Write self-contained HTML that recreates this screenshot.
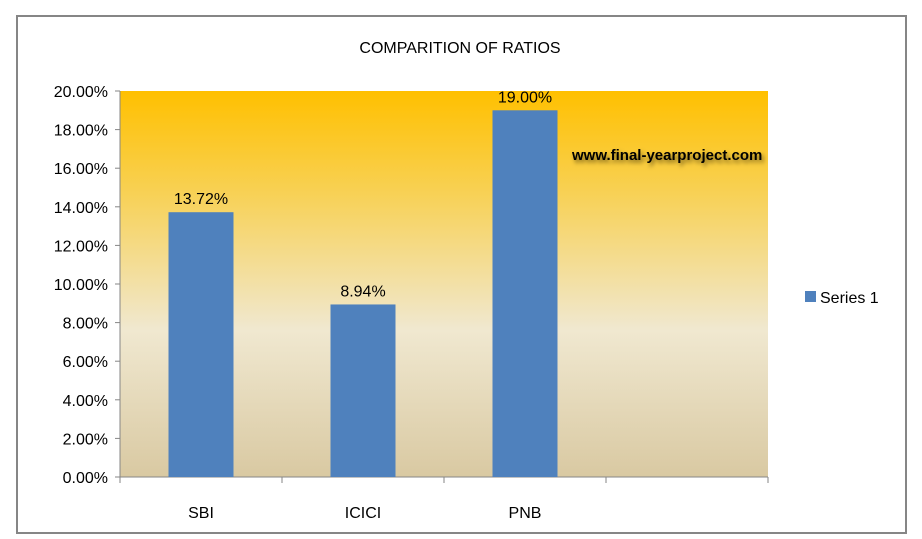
<!DOCTYPE html>
<html><head><meta charset="utf-8"><style>
html,body{margin:0;padding:0;background:#fff;}
svg{display:block;font-family:"Liberation Sans",sans-serif;}
</style></head><body>
<svg width="922" height="539" viewBox="0 0 922 539">
<defs>
<linearGradient id="bg" x1="0" y1="0" x2="0" y2="1">
<stop offset="0" stop-color="#FFC000"/>
<stop offset="0.25" stop-color="#F8D050"/>
<stop offset="0.62" stop-color="#F0E8D0"/>
<stop offset="1" stop-color="#D9C9A2"/>
</linearGradient>
<filter id="sh" x="-5%" y="-50%" width="110%" height="200%"><feDropShadow dx="2" dy="3" stdDeviation="2" flood-color="#000" flood-opacity="0.5"/></filter>
</defs>
<rect x="17" y="16" width="889" height="517" fill="#fff" stroke="#868686" stroke-width="2"/>
<text x="460" y="53" text-anchor="middle" font-size="16" fill="#000">COMPARITION OF RATIOS</text>
<rect x="120" y="91" width="648" height="386" fill="url(#bg)"/>
<g id="axes"></g>
<g id="bars"></g>
<text x="572" y="160" font-size="15" font-weight="bold" fill="#000" filter="url(#sh)">www.final-yearproject.com</text>
<rect x="805" y="291" width="11" height="11" fill="#4F81BD"/>
<text x="820" y="303" font-size="16" fill="#000">Series 1</text>
</svg>
<script>
const categories = ["SBI","ICICI","PNB",""];
const values = [13.72, 8.94, 19.00];
const valueLabels = ["13.72%","8.94%","19.00%"];
const yTicks = [0,2,4,6,8,10,12,14,16,18,20];

const NS="http://www.w3.org/2000/svg";
const X0=120,X1=768,Y0=477,Y1=91,YMAX=20;
const slot=(X1-X0)/categories.length;
function y(v){return Y0-(v/YMAX)*(Y0-Y1);}
function xc(i){return X0+slot*(i+0.5);}
function mk(tag,attrs,parent){const e=document.createElementNS(NS,tag);for(const k in attrs)e.setAttribute(k,attrs[k]);parent.appendChild(e);return e;}
const ax=document.getElementById('axes'), bars=document.getElementById('bars');
let l=mk('line',{x1:X0,y1:Y1,x2:X0,y2:Y0,stroke:'#868686'},ax);


l=mk('line',{x1:X0,y1:Y0,x2:X1,y2:Y0,stroke:'#868686'},ax);


yTicks.forEach(t=>{
 const tk=mk('line',{x1:X0-5,y1:y(t),x2:X0,y2:y(t),stroke:'#868686'},ax);
 
 
 const tx=mk('text',{x:X0-12,y:y(t)+6,'text-anchor':'end','font-size':'16',fill:'#000'},ax);
 tx.textContent=t.toFixed(2)+'%';
 
 
});
for(let i=0;i<=categories.length;i++){
 const tk=mk('line',{x1:X0+slot*i,y1:Y0,x2:X0+slot*i,y2:Y0+6,stroke:'#868686'},ax);
 
 
}
categories.forEach((c,i)=>{
 if(!c)return;
 const tx=mk('text',{x:xc(i),y:518,'text-anchor':'middle','font-size':'16',fill:'#000'},ax);
 tx.textContent=c;
 
 
});
const bw=65;
values.forEach((v,i)=>{
 const r=mk('rect',{x:xc(i)-bw/2,y:y(v),width:bw,height:Y0-y(v),fill:'#4F81BD'},bars);
 
 
 const t=mk('text',{x:xc(i),y:y(v)-8,'text-anchor':'middle','font-size':'16',fill:'#000'},bars);
 t.textContent=valueLabels[i];
 
 
});
</script>
</body></html>
